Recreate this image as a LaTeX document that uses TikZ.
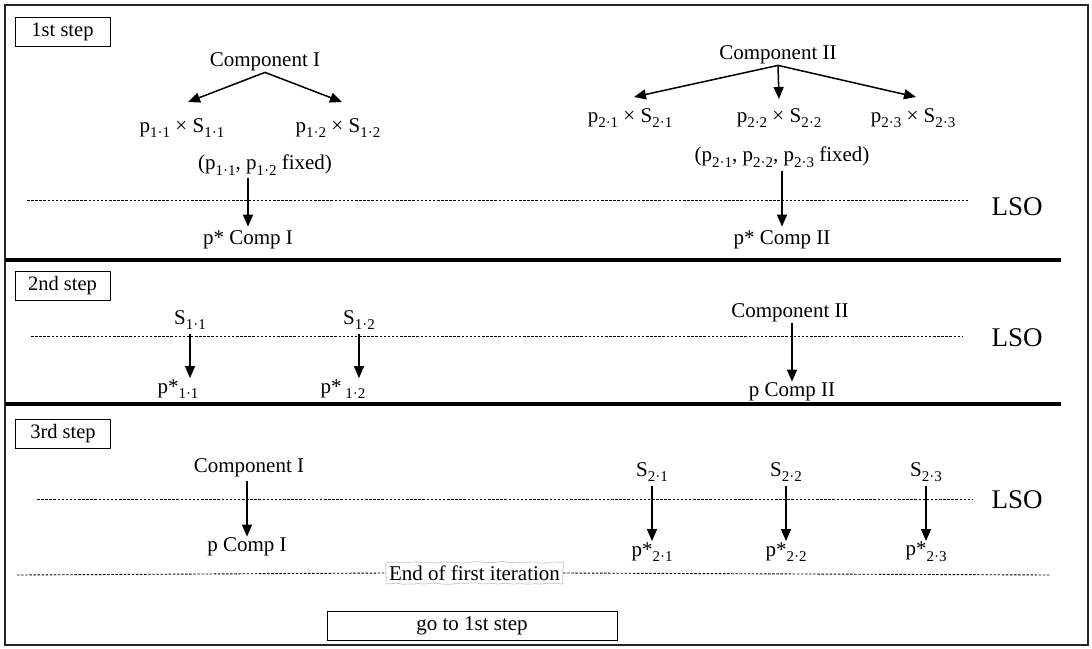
\documentclass[tikz,border=0pt]{standalone}
\usepackage{fontspec}
\setmainfont{Liberation Serif}
\usetikzlibrary{arrows.meta,calc,decorations.pathmorphing,backgrounds}
\newcommand{\lo}[1]{\raisebox{-0.27em}{\fontsize{15}{15}\selectfont #1}}
\tikzset{
  txt/.style={font=\fontsize{21}{25}\selectfont, inner sep=1pt},
  lso/.style={font=\fontsize{27}{30}\selectfont, inner sep=1pt},
  stepbox/.style={draw, line width=0.9pt, font=\fontsize{20.5}{24}\selectfont, minimum width=95pt, minimum height=29pt, inner sep=0pt},
  arr/.style={line width=1.5pt, -{Triangle[length=12pt,width=10pt]}},
  sep/.style={line width=4pt},
  dots/.style={line width=0.9pt, dash pattern=on 2.5pt off 1.6pt},
  fuzzy/.style={draw=gray!45, line width=0.7pt, fill=white, decorate, decoration={random steps, segment length=4pt, amplitude=0.9pt}, rounded corners=1.5pt},
}
\begin{document}
\begin{tikzpicture}[x=1pt,y=-1pt]
\useasboundingbox (0,0) rectangle (1092,648);
% frame and separators
\draw[line width=1.6pt, black!85] (5,5) rectangle (1088,645);
\draw[sep] (5,260) -- (1061,260);
\draw[sep] (5,404) -- (1061,404);

% ---------- 1st step ----------
\node[stepbox] (b1) at (62.5,32) {1st step};
\node[txt] (c1) at (265,62) {Component I};
\node[txt] (p11) at (182,128) {p\lo{1·1} × S\lo{1·1}};
\node[txt] (p12) at (338,128) {p\lo{1·2} × S\lo{1·2}};
\coordinate (t11) at (188,102);
\coordinate (t12) at (342,102);
\draw[arr] (c1.south) -- (t11);
\draw[arr] (c1.south) -- (t12);
\node[txt] (f1) at (265,165) {(p\lo{1·1}, p\lo{1·2} fixed)};
\node[txt] (pc1) at (248,240) {p* Comp I};
\draw[arr, shorten <=2pt, shorten >=3pt] (pc1 |- f1.south) -- (pc1.north);

\node[txt] (c2) at (778,55) {Component II};
\node[txt] (p21) at (630,118) {p\lo{2·1} × S\lo{2·1}};
\node[txt] (p22) at (779,118) {p\lo{2·2} × S\lo{2·2}};
\node[txt] (p23) at (913,118) {p\lo{2·3} × S\lo{2·3}};
\coordinate (t21) at (634,97);
\coordinate (t22) at (779,99);
\coordinate (t23) at (916,97);
\draw[arr] (c2.south) -- (t21);
\draw[arr] (c2.south) -- (t22);
\draw[arr] (c2.south) -- (t23);
\node[txt] (f2) at (782,157) {(p\lo{2·1}, p\lo{2·2}, p\lo{2·3} fixed)};
\node[txt] (pc2) at (782,240) {p* Comp II};
\draw[arr, shorten <=2pt, shorten >=3pt] (pc2 |- f2.south) -- (pc2.north);

\draw[dots] (27,200) -- (968,200);
\node[lso] (lso1) at (1017,207) {LSO};

% ---------- 2nd step ----------
\node[stepbox] (b2) at (62.5,286) {2nd step};
\node[txt] (s11) at (190,320) {S\lo{1·1}};
\node[txt] (s12) at (359,320) {S\lo{1·2}};
\node[txt] (ps11) at (178,389) {p*\lo{1·1}};
\node[txt] (ps12) at (343,389) {p*\lo{\ 1·2}};
\draw[arr, shorten <=3pt] (s11.south) -- (s11.south |- ps11.north);
\draw[arr, shorten <=3pt] (s12.south) -- (s12.south |- ps12.north);

\node[txt] (c2b) at (790,313) {Component II};
\node[txt] (pc2b) at (792,392) {p Comp II};
\draw[arr] (pc2b |- c2b.south) -- (pc2b.north);

\draw[dots] (31,336) -- (962,336);
\node[lso] (lso2) at (1017,338) {LSO};

% ---------- 3rd step ----------
\node[stepbox] (b3) at (63,434) {3rd step};
\node[txt] (c1c) at (249,468) {Component I};
\node[txt] (pc1c) at (247,547) {p Comp I};
\draw[arr, shorten <=3pt] (pc1c |- c1c.south) -- (pc1c.north);

\node[txt] (s21) at (652,472) {S\lo{2·1}};
\node[txt] (s22) at (786,472) {S\lo{2·2}};
\node[txt] (s23) at (926,472) {S\lo{2·3}};
\node[txt] (ps21) at (652,552) {p*\lo{2·1}};
\node[txt] (ps22) at (786,552) {p*\lo{2·2}};
\node[txt] (ps23) at (926,552) {p*\lo{2·3}};
\draw[arr, shorten <=3pt] (s21.south) -- (s21.south |- ps21.north);
\draw[arr, shorten <=3pt] (s22.south) -- (s22.south |- ps22.north);
\draw[arr, shorten <=3pt] (s23.south) -- (s23.south |- ps23.north);

\draw[dots] (37,499) -- (973,499);
\node[lso] (lso3) at (1017,500) {LSO};

% end of iteration
\node[txt, inner sep=3pt] (endit) at (474.5,573) {End of first iteration};
\begin{scope}[on background layer]
\path[fuzzy] (endit.south west) rectangle (endit.north east);
\end{scope}
\draw[dots] (17,575) -- (endit.west);
\draw[dots] (endit.east) -- (1051,575);

\node[txt, draw, line width=0.9pt, minimum width=290pt, minimum height=29pt, inner sep=0pt] (go) at (472,625.5) {go to 1st step};
\end{tikzpicture}
\end{document}
